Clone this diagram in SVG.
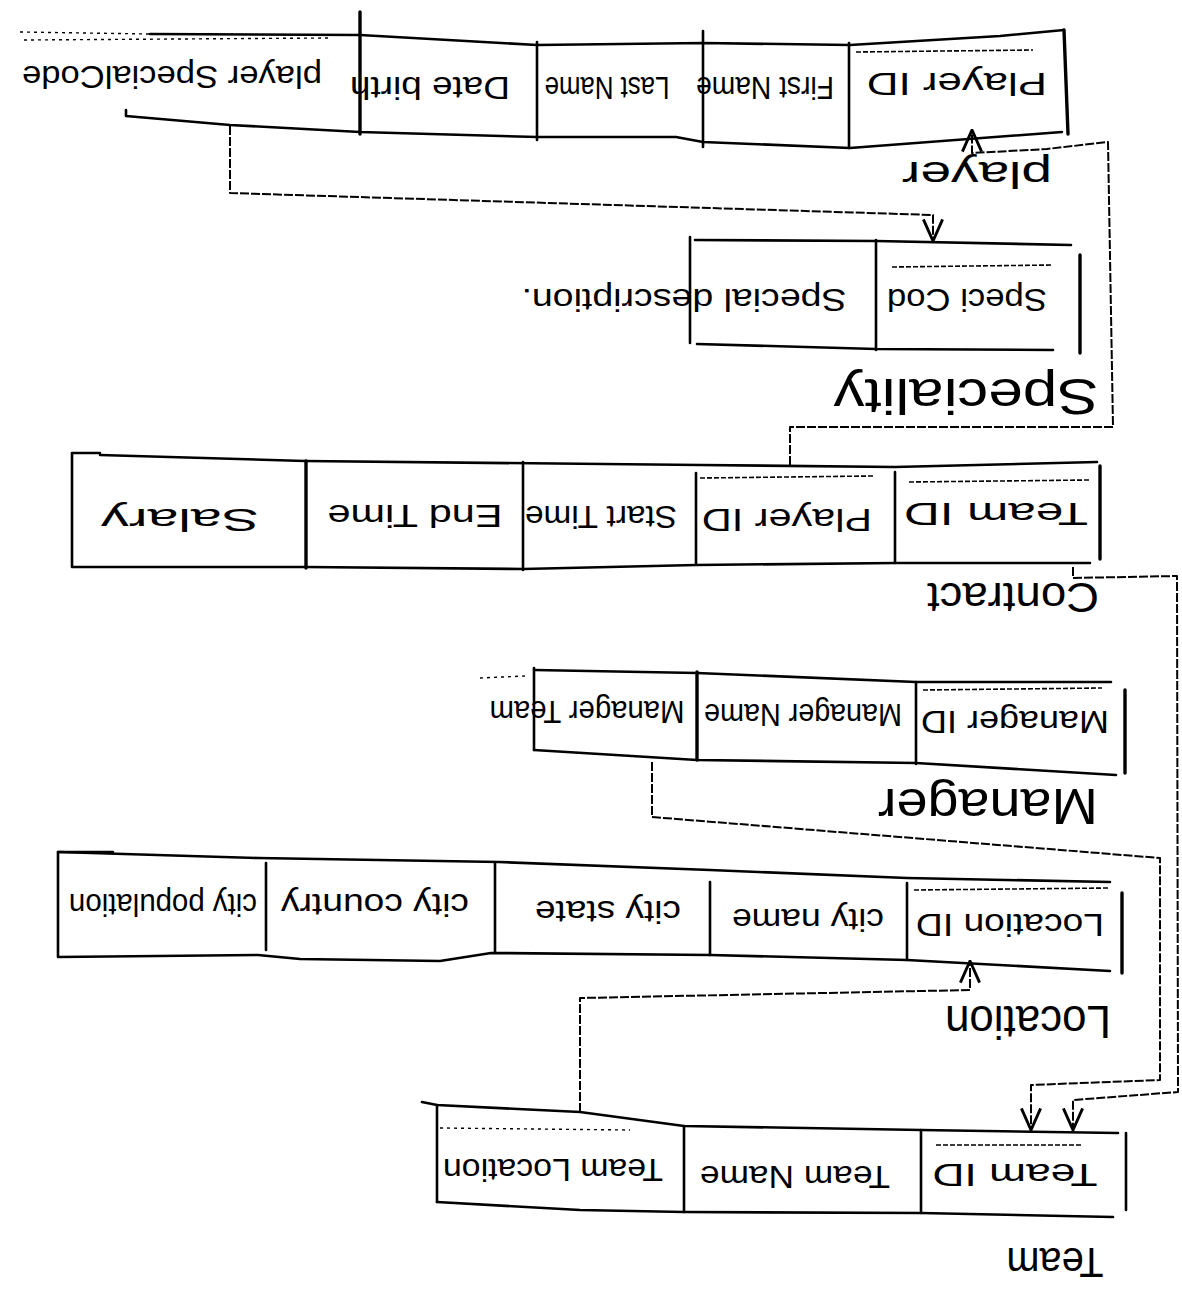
<svg xmlns="http://www.w3.org/2000/svg" width="1182" height="1295" viewBox="0 0 1182 1295">
<style>
.bg{fill:#ffffff}
.ln{fill:none;stroke:#000;stroke-width:2.6;stroke-linecap:round;stroke-linejoin:round}
.thk{fill:none;stroke:#000;stroke-width:3.4;stroke-linecap:round}
.pk{fill:none;stroke:#000;stroke-width:1.6;stroke-dasharray:5 2}
.fk{fill:none;stroke:#000;stroke-width:1.4;stroke-dasharray:3 4}
.cn{fill:none;stroke:#000;stroke-width:2;stroke-dasharray:9 2;stroke-linejoin:round}
.t{font-family:"Liberation Sans","DejaVu Sans",sans-serif;font-size:32px;fill:#000;text-anchor:middle;dominant-baseline:central}
.lb{font-family:"Liberation Sans","DejaVu Sans",sans-serif;font-size:44px;fill:#000;text-anchor:middle;dominant-baseline:central}
</style>
<defs>
<marker id="ah" viewBox="0 0 20 20" refX="19" refY="10" markerWidth="24" markerHeight="24" markerUnits="userSpaceOnUse" orient="auto">
<path d="M1,2 L19,10 L1,18" fill="none" stroke="#000" stroke-width="2.4" stroke-dasharray="none"/>
</marker>
</defs>
<rect class="bg" x="0" y="0" width="1182" height="1295"/>

<g id="player">
<path class="fk" d="M20,32 L150,34"/>
<path class="ln" d="M150,34 L360,35 L537,45 L703,43 L850,45 L1000,36 L1064,30"/>
<path class="thk" d="M1064,30 L1068,134"/>
<path class="ln" d="M126,110 L126,116 L230,125 L360,132 L537,137 L676,137 L703,142 L850,148 L1062,132"/>
<path class="thk" d="M360,12 L360,134"/>
<path class="ln" d="M537,42 L537,140"/>
<path class="ln" d="M703,31 L703,147"/>
<path class="ln" d="M849,43 L849,148"/>
<path class="pk" d="M856,52 L1033,50"/>
<path class="fk" d="M24,40 L330,38"/>
<text class="t" transform="rotate(180 172 77)" x="172" y="77" textLength="300" lengthAdjust="spacingAndGlyphs">player SpecialCode</text>
<text class="t" transform="rotate(180 430 88)" x="430" y="88" textLength="160" lengthAdjust="spacingAndGlyphs">Date birth</text>
<text class="t" transform="rotate(180 607 88)" x="607" y="88" textLength="125" lengthAdjust="spacingAndGlyphs">Last Name</text>
<text class="t" transform="rotate(180 765 88)" x="765" y="88" textLength="138" lengthAdjust="spacingAndGlyphs">First Name</text>
<text class="t" transform="rotate(180 957 84)" x="957" y="84" textLength="180" lengthAdjust="spacingAndGlyphs">Player ID</text>
<text class="lb" transform="rotate(180 977 174)" x="977" y="174" style="font-size:36px" textLength="150" lengthAdjust="spacingAndGlyphs">player</text>
</g>

<g id="speciality">
<path class="ln" d="M695,240 L876,241 L1071,245"/>
<path class="ln" d="M690,237 L690,343"/>
<path class="ln" d="M876,240 L876,350"/>
<path class="ln" d="M697,344 L876,349 L1053,350"/>
<path class="thk" d="M1080,255 L1080,353"/>
<path class="pk" d="M892,267 L1053,265"/>
<text class="t" transform="rotate(180 967 300)" x="967" y="300" textLength="160" lengthAdjust="spacingAndGlyphs">Speci Cod</text>
<text class="t" transform="rotate(180 684 300)" x="684" y="300" textLength="325" lengthAdjust="spacingAndGlyphs">Special description.</text>
<text class="lb" transform="rotate(180 966 396)" x="966" y="396" style="font-size:50px" textLength="265" lengthAdjust="spacingAndGlyphs">Speciality</text>
</g>

<g id="contract">
<path class="ln" d="M100,453 L72,453 L72,567 L306,567 L523,569 L696,565 L895,563 L1090,563"/>
<path class="ln" d="M100,455 L305,461 L700,465 L895,467 L1097,462"/>
<path class="thk" d="M306,461 L306,568"/>
<path class="ln" d="M523,462 L523,570"/>
<path class="ln" d="M696,473 L696,564"/>
<path class="ln" d="M895,472 L895,563"/>
<path class="thk" d="M1100,466 L1100,559"/>
<path class="pk" d="M700,478 L873,476"/>
<path class="pk" d="M909,482 L1090,480"/>
<text class="t" transform="rotate(180 180 520)" x="180" y="520" textLength="158" lengthAdjust="spacingAndGlyphs">Salary</text>
<text class="t" transform="rotate(180 415 516)" x="415" y="516" textLength="175" lengthAdjust="spacingAndGlyphs">End Time</text>
<text class="t" transform="rotate(180 601 517)" x="601" y="517" textLength="152" lengthAdjust="spacingAndGlyphs">Start Time</text>
<text class="t" transform="rotate(180 787 520)" x="787" y="520" textLength="170" lengthAdjust="spacingAndGlyphs">Player ID</text>
<text class="t" transform="rotate(180 996 514)" x="996" y="514" textLength="184" lengthAdjust="spacingAndGlyphs">Team ID</text>
<text class="lb" transform="rotate(180 1013 597)" x="1013" y="597" style="font-size:42px" textLength="172" lengthAdjust="spacingAndGlyphs">Contract</text>
</g>

<g id="manager">
<path class="fk" d="M480,678 L525,676"/>
<path class="ln" d="M534,670 L697,673 L916,682 L1111,682"/>
<path class="ln" d="M534,668 L534,750"/>
<path class="ln" d="M534,750 L697,760 L916,763 L1116,775"/>
<path class="thk" d="M697,672 L697,760"/>
<path class="ln" d="M916,682 L916,764"/>
<path class="thk" d="M1125,690 L1125,773"/>
<path class="pk" d="M923,690 L1102,688"/>
<text class="t" transform="rotate(180 587 712)" x="587" y="712" textLength="195" lengthAdjust="spacingAndGlyphs">Manager Team</text>
<text class="t" transform="rotate(180 803 715)" x="803" y="715" textLength="198" lengthAdjust="spacingAndGlyphs">Manager Name</text>
<text class="t" transform="rotate(180 1015 722)" x="1015" y="722" textLength="188" lengthAdjust="spacingAndGlyphs">Manager ID</text>
<text class="lb" transform="rotate(180 988 806)" x="988" y="806" style="font-size:50px" textLength="220" lengthAdjust="spacingAndGlyphs">Manager</text>
</g>

<g id="location">
<path class="ln" d="M113,852 L58,852 L58,957 L258,955 L300,959 L440,961 L491,953 L710,955 L907,960 L1110,971"/>
<path class="ln" d="M58,852 L258,858 L499,862 L710,870 L907,878 L1110,882"/>
<path class="ln" d="M266,863 L266,950"/>
<path class="ln" d="M495,863 L495,952"/>
<path class="ln" d="M710,882 L710,955"/>
<path class="ln" d="M907,883 L907,960"/>
<path class="thk" d="M1122,893 L1122,973"/>
<path class="pk" d="M914,890 L1110,888"/>
<text class="t" transform="rotate(180 163 905)" x="163" y="905" textLength="188" lengthAdjust="spacingAndGlyphs">city population</text>
<text class="t" transform="rotate(180 375 905)" x="375" y="905" textLength="188" lengthAdjust="spacingAndGlyphs">city country</text>
<text class="t" transform="rotate(180 608 912)" x="608" y="912" textLength="146" lengthAdjust="spacingAndGlyphs">city state</text>
<text class="t" transform="rotate(180 808 920)" x="808" y="920" textLength="152" lengthAdjust="spacingAndGlyphs">city name</text>
<text class="t" transform="rotate(180 1010 925)" x="1010" y="925" textLength="188" lengthAdjust="spacingAndGlyphs">Location ID</text>
<text class="lb" transform="rotate(180 1028 1022)" x="1028" y="1022" style="font-size:46px" textLength="166" lengthAdjust="spacingAndGlyphs">Location</text>
</g>

<g id="team">
<path class="ln" d="M422,1102 L437,1105 L580,1112 L684,1126 L921,1130 L1118,1133"/>
<path class="ln" d="M437,1105 L437,1202"/>
<path class="ln" d="M437,1202 L580,1210 L684,1212 L921,1213 L1113,1217"/>
<path class="ln" d="M684,1126 L684,1212"/>
<path class="ln" d="M921,1130 L921,1213"/>
<path class="ln" d="M1126,1133 L1126,1210"/>
<path class="pk" d="M936,1145 L1081,1145"/>
<path class="fk" d="M440,1128 L630,1130"/>
<text class="t" transform="rotate(180 553 1170)" x="553" y="1170" textLength="220" lengthAdjust="spacingAndGlyphs">Team Location</text>
<text class="t" transform="rotate(180 795 1177)" x="795" y="1177" textLength="190" lengthAdjust="spacingAndGlyphs">Team Name</text>
<text class="t" transform="rotate(180 1015 1175)" x="1015" y="1175" textLength="165" lengthAdjust="spacingAndGlyphs">Team ID</text>
<text class="lb" transform="rotate(180 1055 1262)" x="1055" y="1262" style="font-size:42px" textLength="97" lengthAdjust="spacingAndGlyphs">Team</text>
</g>

<g id="connectors">
<path class="cn" marker-end="url(#ah)" d="M230,126 L230,193 L933,215 L933,241"/>
<path class="cn" marker-end="url(#ah)" d="M790,465 L790,427 L1113,427 L1108,142 L1047,149 L972,153 L972,130"/>
<path class="cn" marker-end="url(#ah)" d="M1073,567 L1073,578 L1177,576 L1178,1092 L1073,1100 L1073,1130"/>
<path class="cn" marker-end="url(#ah)" d="M652,762 L652,817 L1160,858 L1160,1080 L1031,1085 L1031,1130"/>
<path class="cn" marker-end="url(#ah)" d="M580,1112 L580,998 L970,990 L970,961"/>
</g>
</svg>
